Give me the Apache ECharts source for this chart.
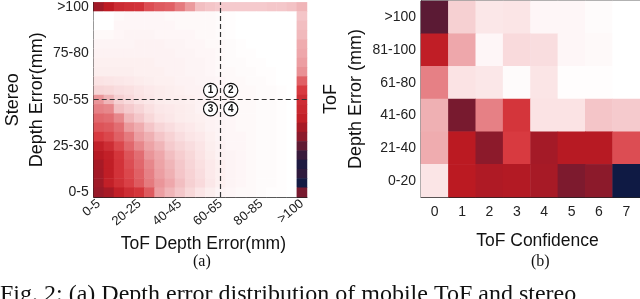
<!DOCTYPE html>
<html>
<head>
<meta charset="utf-8">
<script src="https://cdn.jsdelivr.net/npm/echarts@6/dist/echarts.min.js"></script>
<style>
html,body{margin:0;padding:0;background:#fff;}
#c{width:640px;height:299px;}
</style>
</head>
<body>
<div id="c"></div>
<script>
// ---------- Data ----------
// (a) Stereo vs ToF depth error, 21 x 21 bins
var errBins = ['0-5','5-10','10-15','15-20','20-25','25-30','30-35','35-40','40-45','45-50','50-55',
               '55-60','60-65','65-70','70-75','75-80','80-85','85-90','90-95','95-100','>100'];
// rows listed from top (Stereo >100) to bottom (Stereo 0-5); columns = ToF bins 0-5 ... >100
var gridA = [
  [70,62,56,54,53,47,45,44,40,34,26,24,22,22,22,22,22,23,23,25,28],
  [0,0,3,4,4,4,4,3,3,3,3,3,2,1,0,0,0,0,0,0,24],
  [0,0,4,4,4,4,4,4,3,3,3,3,2,1,0,0,0,0,0,0,26],
  [3,3,4,5,5,5,4,4,4,4,3,3,2,1,0,0,0,0,0,0,27],
  [5,5,5,5,6,6,6,5,5,4,4,3,3,2,1,0,0,0,0,0,30],
  [6,6,6,6,6,6,6,6,5,5,4,4,3,2,1,1,0,0,0,0,31],
  [7,7,7,7,7,7,6,6,6,5,5,4,3,2,2,1,1,0,0,0,33],
  [8,8,8,8,7,7,7,6,6,5,5,4,3,3,2,2,1,1,0,0,36],
  [13,12,11,10,9,8,7,7,6,6,5,5,4,3,3,2,2,1,0,0,44],
  [18,17,15,14,12,10,9,8,7,6,6,5,4,4,3,3,2,2,1,0,50],
  [35,28,20,16,13,11,9,8,8,7,6,5,4,4,3,3,2,2,1,0,55],
  [39,38,26,22,18,14,11,10,9,8,6,5,4,4,3,3,2,2,1,0,57],
  [43,42,38,28,23,17,13,11,9,8,7,6,5,4,3,3,2,2,1,0,60],
  [46,45,42,34,30,24,18,15,12,10,8,6,5,4,3,3,2,2,1,0,68],
  [50,48,44,40,33,29,24,19,15,12,10,7,5,4,4,3,2,2,1,0,75],
  [60,55,48,43,38,32,28,22,18,15,12,8,6,4,4,3,2,2,1,0,84],
  [64,60,52,46,42,35,31,26,21,17,13,9,6,5,4,3,2,2,1,0,92],
  [68,61,53,47,43,38,32,28,23,18,14,10,7,5,4,3,2,2,1,0,97],
  [69,61,53,48,44,39,33,29,24,19,15,10,7,5,4,3,2,2,1,0,94],
  [70,60,54,49,45,40,35,31,26,20,16,11,7,5,4,3,2,2,1,0,99],
  [72,68,60,55,52,45,33,28,23,17,12,8,5,4,3,3,2,1,1,0,79]
];
var tofCut = '60-65';
var stereoCut = '50-55';
var regionMarks = [['55-60','55-60','1'],['65-70','55-60','2'],['55-60','45-50','3'],['65-70','45-50','4']];

// (b) ToF depth error vs ToF confidence
var confCats = ['0','1','2','3','4','5','6','7'];
var tofErrCats = ['0-20','21-40','41-60','61-80','81-100','>100'];
// rows listed from top (>100) to bottom (0-20)
var gridB = [
  [85,20,11,12,4,4,2,0],
  [61,31,4,16,15,4,3,0],
  [39,13,11,2,12,1,1,0],
  [29,79,39,52,13,13,24,22],
  [30,63,75,50,69,64,64,47],
  [12,63,66,65,68,78,75,100]
];

var rampColors = ['#ffffff','#fbe4e5','#f3c2c5','#e88a8e','#d83a40','#bd1a22','#8c1a2b','#4f1a36','#0f1a44'];

// ---------- Build ----------
function toHeat(rows, nRows){
  var out = [];
  rows.forEach(function(r,i){
    var y = nRows-1-i;
    r.forEach(function(v,x){ out.push([x,y,v]); });
  });
  return out;
}
var dataA = toHeat(gridA, errBins.length);
var dataB = toHeat(gridB, tofErrCats.length);

var sans = 'Liberation Sans, Arial, sans-serif';
var serif = 'Liberation Serif, Times New Roman, serif';

var chart = echarts.init(document.getElementById('c'), null, {renderer:'canvas'});
chart.setOption({
  animation:false,
  backgroundColor:'#fff',
  grid:[
    {left:89, top:1, width:218, height:196, show:false},
    {left:421, top:1, width:219, height:196, show:true, borderColor:'#333', borderWidth:1, backgroundColor:'transparent'}
  ],
  xAxis:[
    {type:'category', gridIndex:0, data:errBins,
     axisLine:{lineStyle:{color:'#222',width:1}},
     axisTick:{alignWithLabel:true, interval:3, length:4, lineStyle:{color:'#222'}},
     axisLabel:{interval:3, rotate:40, fontSize:13, color:'#222', fontFamily:sans, margin:5},
     name:'ToF Depth Error(mm)', nameLocation:'middle', nameGap:33,
     nameTextStyle:{fontSize:17.5, color:'#111', fontFamily:sans, padding:[0,0,0,6]}},
    {type:'category', gridIndex:1, data:confCats,
     axisLine:{lineStyle:{color:'#222',width:1}},
     axisTick:{alignWithLabel:true, length:4, lineStyle:{color:'#222'}},
     axisLabel:{fontSize:14, color:'#222', fontFamily:sans, margin:8},
     name:'ToF Confidence', nameLocation:'middle', nameGap:35,
     nameTextStyle:{fontSize:17.5, color:'#111', fontFamily:sans, padding:[0,0,0,14]}}
  ],
  yAxis:[
    {type:'category', gridIndex:0, data:errBins,
     axisLine:{lineStyle:{color:'#222',width:1}},
     axisTick:{alignWithLabel:true, interval:4, length:4, lineStyle:{color:'#222'}},
     axisLabel:{interval:4, fontSize:14, color:'#222', fontFamily:sans, margin:5},
     name:'Stereo\nDepth Error(mm)', nameLocation:'middle', nameGap:43, nameRotate:90,
     nameTextStyle:{fontSize:18, lineHeight:24, color:'#111', fontFamily:sans, align:'center'}},
    {type:'category', gridIndex:1, data:tofErrCats,
     axisLine:{lineStyle:{color:'#222',width:1}},
     axisTick:{alignWithLabel:true, length:4, lineStyle:{color:'#222'}},
     axisLabel:{fontSize:14, color:'#222', fontFamily:sans, margin:5},
     name:'ToF\nDepth Error (mm)', nameLocation:'middle', nameGap:41, nameRotate:90,
     nameTextStyle:{fontSize:18, lineHeight:25, color:'#111', fontFamily:sans, align:'center'}}
  ],
  visualMap:[
    {type:'continuous', min:0, max:100, show:false, seriesIndex:0, inRange:{color:rampColors}},
    {type:'continuous', min:0, max:100, show:false, seriesIndex:1, inRange:{color:rampColors}}
  ],
  series:[
    {type:'heatmap', xAxisIndex:0, yAxisIndex:0, data:dataA, silent:true,
     markLine:{silent:true, symbol:'none', label:{show:false},
       lineStyle:{color:'#333', type:[5,3], width:1.2},
       data:[{xAxis:tofCut},{yAxis:stereoCut}]},
     markPoint:{silent:true, symbol:'circle', symbolSize:14,
       itemStyle:{color:'#fff', borderColor:'#111', borderWidth:1.2},
       label:{show:true, color:'#111', fontSize:10, fontWeight:'bold', fontFamily:sans,
              formatter:function(p){return p.name;}},
       data:regionMarks.map(function(m){return {coord:[m[0],m[1]], name:m[2]};})}
    },
    {type:'heatmap', xAxisIndex:1, yAxisIndex:1, data:dataB, silent:true}
  ],
  graphic:[
    {type:'text', left:193, top:254, style:{text:'(a)', font:'16px '+serif, fill:'#111'}},
    {type:'text', left:531, top:254, style:{text:'(b)', font:'16px '+serif, fill:'#111'}},
    {type:'text', left:0, top:283, style:{text:'Fig. 2: (a) Depth error distribution of mobile ToF and stereo', font:'24px '+serif, fill:'#111'}}
  ]
});
</script>
</body>
</html>
